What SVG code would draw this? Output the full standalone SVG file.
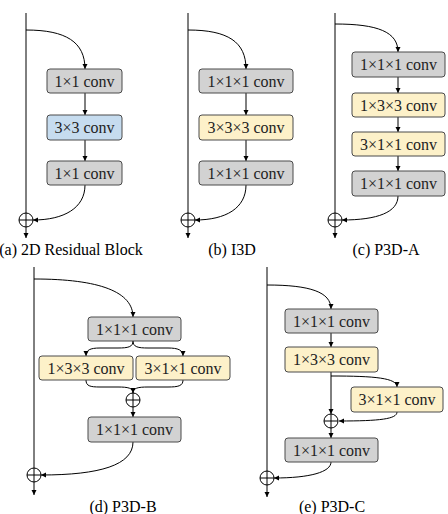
<svg xmlns="http://www.w3.org/2000/svg" width="448" height="514" viewBox="0 0 448 514">
<defs>
<marker id="ah" markerWidth="6" markerHeight="6" refX="5" refY="3" orient="auto" markerUnits="userSpaceOnUse"><path d="M0,0.5 L5,3 L0,5.5 z" fill="#000"/></marker>
<style>
.box{stroke:#4a4a4a;stroke-width:1}
.gray{fill:#d2d2d2}
.blue{fill:#c6dcef}
.yel{fill:#fdf1c9}
text{font-family:'Liberation Serif','Times New Roman','DejaVu Serif',serif;font-size:16px;text-anchor:middle}
.lbl{fill:#222}
.cap{fill:#000}
.ln{fill:none;stroke:#000;stroke-width:1}
.sum{fill:none;stroke:#000;stroke-width:1}
</style>
</defs>
<rect width="448" height="514" fill="#fff"/>
<g id="connectors">
<path class="ln" d="M26,13 V238" marker-end="url(#ah)"/>
<path class="ln" d="M26,30 C66,30 85,42 85,69" marker-end="url(#ah)"/>
<path class="ln" d="M85,93 V115" marker-end="url(#ah)"/>
<path class="ln" d="M85,140 V161" marker-end="url(#ah)"/>
<path class="ln" d="M85,185 C85,208 64,220 33,220" marker-end="url(#ah)"/>
<path class="ln" d="M188,13 V238" marker-end="url(#ah)"/>
<path class="ln" d="M188,30 C228,30 246,42 246,69" marker-end="url(#ah)"/>
<path class="ln" d="M246,93 V115" marker-end="url(#ah)"/>
<path class="ln" d="M246,140 V161" marker-end="url(#ah)"/>
<path class="ln" d="M246,185 C246,208 226,220 195,220" marker-end="url(#ah)"/>
<path class="ln" d="M335,13 V238" marker-end="url(#ah)"/>
<path class="ln" d="M335,24 C378,24 398,32 398,52" marker-end="url(#ah)"/>
<path class="ln" d="M398,77 V93" marker-end="url(#ah)"/>
<path class="ln" d="M398,117 V132" marker-end="url(#ah)"/>
<path class="ln" d="M398,156 V171" marker-end="url(#ah)"/>
<path class="ln" d="M398,196 C398,212 378,220 342,220" marker-end="url(#ah)"/>
<path class="ln" d="M34,267 V495" marker-end="url(#ah)"/>
<path class="ln" d="M34,279 C100,279 133,292 133,317" marker-end="url(#ah)"/>
<path class="ln" d="M133,341 C133,347 128,348 118,348 L100,348 C90,348 86,350 86,356" marker-end="url(#ah)"/>
<path class="ln" d="M133,341 C133,347 138,348 148,348 L168,348 C178,348 183,350 183,356" marker-end="url(#ah)"/>
<path class="ln" d="M86,380 C86,386 90,387 100,387 L118,387 C128,387 133,388 133,393" marker-end="url(#ah)"/>
<path class="ln" d="M183,380 C183,386 178,387 168,387 L148,387 C138,387 133,388 133,393"/>
<path class="ln" d="M133,407 V417" marker-end="url(#ah)"/>
<path class="ln" d="M133,442 C133,465 100,475 41,475" marker-end="url(#ah)"/>
<path class="ln" d="M267,267 V497" marker-end="url(#ah)"/>
<path class="ln" d="M267,285 C310,285 331,292 331,309" marker-end="url(#ah)"/>
<path class="ln" d="M331,333 V347" marker-end="url(#ah)"/>
<path class="ln" d="M331,372 V414" marker-end="url(#ah)"/>
<path class="ln" d="M331,376 C375,376 397,378 397,387" marker-end="url(#ah)"/>
<path class="ln" d="M397,412 C397,419 380,421 339,421" marker-end="url(#ah)"/>
<path class="ln" d="M331,428 V438" marker-end="url(#ah)"/>
<path class="ln" d="M331,462 C331,472 310,478 274,478" marker-end="url(#ah)"/>
</g>
<g id="sums">
<g id="sum-a"><circle class="sum" cx="26" cy="220" r="7"/><path class="ln" d="M19,220 H33"/></g>
<g id="sum-b"><circle class="sum" cx="188" cy="220" r="7"/><path class="ln" d="M181,220 H195"/></g>
<g id="sum-c"><circle class="sum" cx="335" cy="220" r="7"/><path class="ln" d="M328,220 H342"/></g>
<g id="sum-d1"><circle class="sum" cx="133" cy="400" r="7"/><path class="ln" d="M126,400 H140 M133,393 V407"/></g>
<g id="sum-d2"><circle class="sum" cx="34" cy="475" r="7"/><path class="ln" d="M27,475 H41"/></g>
<g id="sum-e1"><circle class="sum" cx="331" cy="421" r="7"/><path class="ln" d="M324,421 H338 M331,414 V428"/></g>
<g id="sum-e2"><circle class="sum" cx="267" cy="478" r="7"/><path class="ln" d="M260,478 H274"/></g>
</g>
<g id="a1"><rect class="box gray" x="47" y="69" width="75" height="24" rx="3"/><text class="lbl" x="84.5" y="86.5">1×1 conv</text></g>
<g id="a2"><rect class="box blue" x="47" y="115" width="75" height="25" rx="3"/><text class="lbl" x="84.5" y="133">3×3 conv</text></g>
<g id="a3"><rect class="box gray" x="47" y="161" width="75" height="24" rx="3"/><text class="lbl" x="84.5" y="178.5">1×1 conv</text></g>
<g id="b1"><rect class="box gray" x="199" y="69" width="94" height="24" rx="3"/><text class="lbl" x="246" y="86.5">1×1×1 conv</text></g>
<g id="b2"><rect class="box yel" x="199" y="115" width="94" height="25" rx="3"/><text class="lbl" x="246" y="133">3×3×3 conv</text></g>
<g id="b3"><rect class="box gray" x="199" y="161" width="94" height="24" rx="3"/><text class="lbl" x="246" y="178.5">1×1×1 conv</text></g>
<g id="c1"><rect class="box gray" x="352" y="52" width="93" height="25" rx="3"/><text class="lbl" x="398.5" y="70">1×1×1 conv</text></g>
<g id="c2"><rect class="box yel" x="352" y="93" width="93" height="24" rx="3"/><text class="lbl" x="398.5" y="110.5">1×3×3 conv</text></g>
<g id="c3"><rect class="box yel" x="352" y="132" width="93" height="24" rx="3"/><text class="lbl" x="398.5" y="149.5">3×1×1 conv</text></g>
<g id="c4"><rect class="box gray" x="352" y="171" width="93" height="25" rx="3"/><text class="lbl" x="398.5" y="189">1×1×1 conv</text></g>
<g id="d1"><rect class="box gray" x="88" y="317" width="93" height="24" rx="3"/><text class="lbl" x="134.5" y="334.5">1×1×1 conv</text></g>
<g id="d2"><rect class="box yel" x="39" y="356" width="94" height="24" rx="3"/><text class="lbl" x="86" y="373.5">1×3×3 conv</text></g>
<g id="d3"><rect class="box yel" x="136" y="356" width="94" height="24" rx="3"/><text class="lbl" x="183" y="373.5">3×1×1 conv</text></g>
<g id="d4"><rect class="box gray" x="88" y="417" width="93" height="25" rx="3"/><text class="lbl" x="134.5" y="435">1×1×1 conv</text></g>
<g id="e1"><rect class="box gray" x="285" y="309" width="93" height="24" rx="3"/><text class="lbl" x="331.5" y="326.5">1×1×1 conv</text></g>
<g id="e2"><rect class="box yel" x="285" y="347" width="93" height="25" rx="3"/><text class="lbl" x="331.5" y="365">1×3×3 conv</text></g>
<g id="e3"><rect class="box yel" x="351" y="387" width="92" height="25" rx="3"/><text class="lbl" x="397" y="405">3×1×1 conv</text></g>
<g id="e4"><rect class="box gray" x="285" y="438" width="93" height="24" rx="3"/><text class="lbl" x="331.5" y="455.5">1×1×1 conv</text></g>
<g id="captions">
<text class="cap" x="71" y="255">(a) 2D Residual Block</text>
<text class="cap" x="232" y="255">(b) I3D</text>
<text class="cap" x="386" y="255">(c) P3D-A</text>
<text class="cap" x="123" y="512">(d) P3D-B</text>
<text class="cap" x="332" y="512">(e) P3D-C</text>
</g>
</svg>
